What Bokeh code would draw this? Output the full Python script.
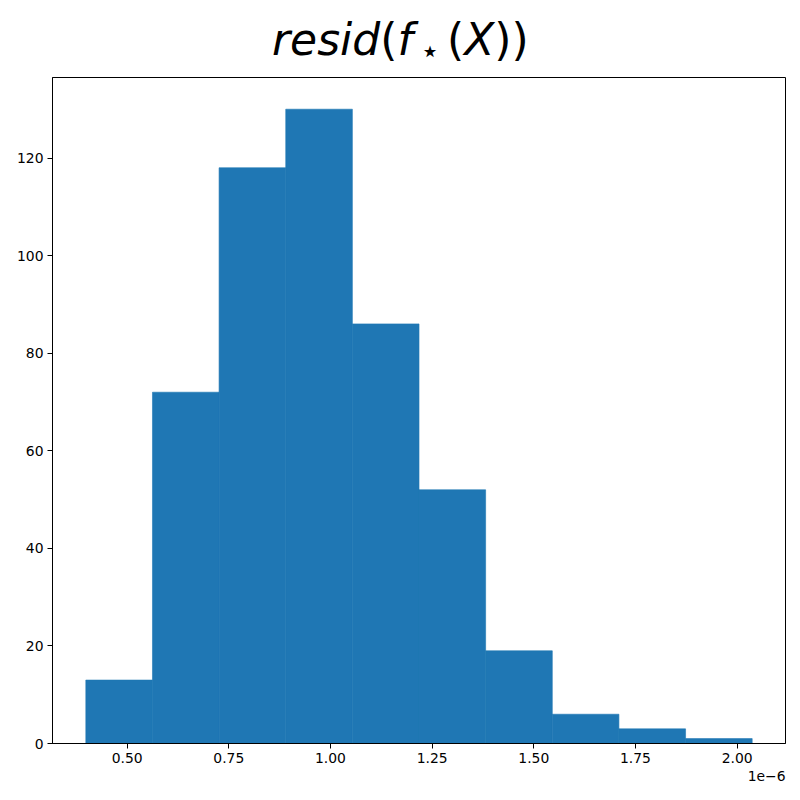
from bokeh.plotting import figure
from bokeh.models import Range1d, FixedTicker, PrintfTickFormatter, Title, Div
from bokeh.layouts import column
from bokeh.embed import file_html
from bokeh.resources import INLINE

# Histogram data (values in units of 1e-6)
bin_edges = [0.3985, 0.5624, 0.7262, 0.8901, 1.0539, 1.2178,
             1.3816, 1.5455, 1.7093, 1.8732, 2.0370]
counts = [13, 72, 118, 130, 86, 52, 19, 6, 3, 1]
x_ticks = [0.50, 0.75, 1.00, 1.25, 1.50, 1.75, 2.00]
y_ticks = [0, 20, 40, 60, 80, 100, 120]

span = bin_edges[-1] - bin_edges[0]
x_lo = bin_edges[0] - 0.05 * span
x_hi = bin_edges[-1] + 0.05 * span
y_hi = max(counts) * 1.05

TITLE_H = 65

up = "<span style=\"font-style:normal;\">"
title_html = (
    "<div style=\"font-family:'DejaVu Sans';font-style:italic;font-size:44px;"
    "line-height:44px;padding-top:18px;padding-left:272px;color:black;white-space:nowrap;\">"
    "resid" + up + "(</span>f"
    "<span style=\"font-style:normal;font-size:32px;position:relative;top:7px;"
    "margin-left:7px;margin-right:7px;\">\u22c6</span>"
    + up + "(</span>X" + up + "))</span></div>"
)
title_div = Div(text=title_html, width=784, height=TITLE_H, margin=0)

p = figure(frame_width=733, frame_height=666, output_backend="svg",
           toolbar_location=None,
           x_range=Range1d(x_lo, x_hi), y_range=Range1d(0, y_hi),
           min_border_left=52, min_border_right=1, min_border_top=77 - TITLE_H,
           min_border_bottom=46, margin=0)

p.quad(left=bin_edges[:-1], right=bin_edges[1:], bottom=0, top=counts,
       fill_color="#1f77b4", line_color="#1f77b4", line_width=0.6)

p.grid.visible = False
p.outline_line_color = "black"
p.outline_line_width = 1
p.outline_line_alpha = 1.0
p.background_fill_color = "white"
p.border_fill_color = "white"

for ax in (p.xaxis[0], p.yaxis[0]):
    ax.major_tick_in = 0
    ax.major_tick_out = 5
    ax.minor_tick_line_color = None
    ax.major_label_standoff = 4
    ax.major_label_text_font = "DejaVu Sans"
    ax.major_label_text_font_size = "13.9px"
    ax.major_label_text_color = "black"
    ax.axis_line_color = "black"
    ax.major_tick_line_color = "black"

p.xaxis[0].ticker = FixedTicker(ticks=x_ticks)
p.xaxis[0].formatter = PrintfTickFormatter(format="%.2f")
p.yaxis[0].ticker = FixedTicker(ticks=y_ticks)

# Offset label "1e-6" at the bottom right
offset_title = Title(text="1e\u22126", align="right", text_font="DejaVu Sans",
                     text_font_size="13.9px", text_font_style="normal",
                     text_color="black", standoff=6, offset=0)
p.add_layout(offset_title, "below")

layout = column(title_div, p, spacing=0)

open("out.html", "w").write(file_html(layout, INLINE))
